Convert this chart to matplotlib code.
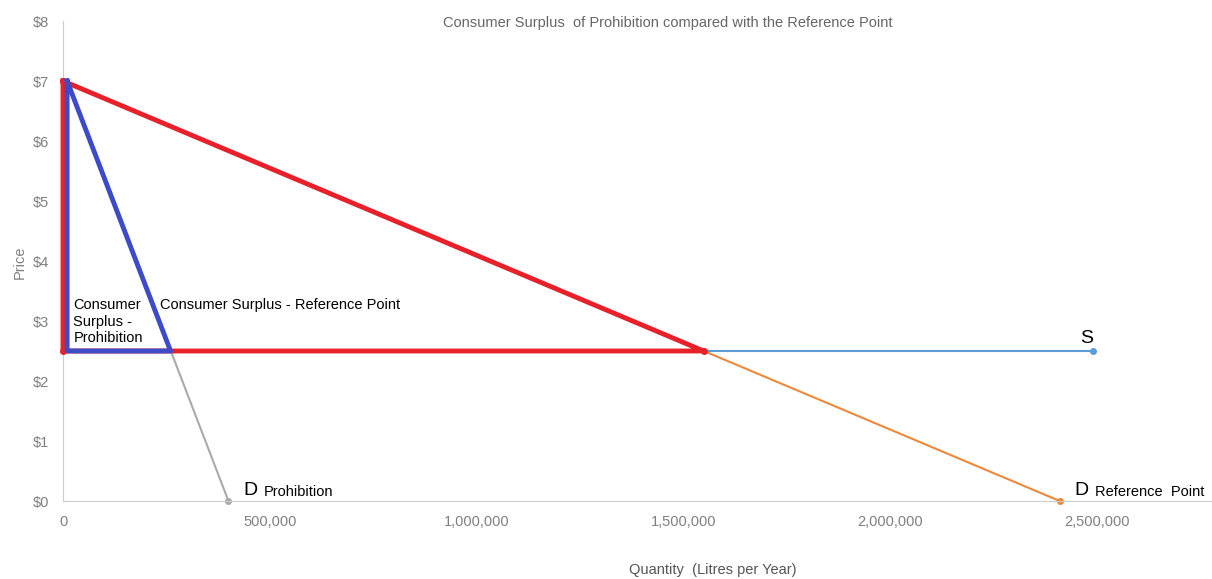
import numpy as np
import matplotlib.pyplot as plt

plt.rcParams['font.family'] = ['Liberation Sans', 'DejaVu Sans']

# demand / supply data
s_qty = [0, 2490000]
s_price = [2.5, 2.5]

d_ref_qty = [0, 2410000]
d_ref_price = [7, 0]

d_pro_qty = [10000, 400000]
d_pro_price = [7, 0]

# consumer surplus triangles
cs_ref_qty = [0, 1549000, 0, 0]
cs_ref_price = [7, 2.5, 2.5, 7]

cs_pro_qty = [10000, 260000, 10000, 10000]
cs_pro_price = [7, 2.5, 2.5, 7]

yticks = [0, 1, 2, 3, 4, 5, 6, 7, 8]
xticks = [0, 500000, 1000000, 1500000, 2000000, 2500000]

fig = plt.figure(figsize=(12.12, 5.79), dpi=100)
ax = fig.add_axes([63/1212, 78/579, 1149/1212, 480/579])

ax.plot(d_pro_qty, d_pro_price, color='#aaaaaa', lw=1.5, marker='o', ms=4, markevery=[1], clip_on=False)
ax.plot(d_ref_qty, d_ref_price, color='#f0883a', lw=1.5, marker='o', ms=4, markevery=[1], clip_on=False)
ax.plot(s_qty, s_price, color='#5b9bd8', lw=1.5, marker='o', ms=4, markevery=[1])
ax.plot(cs_ref_qty, cs_ref_price, color='#e8202a', lw=3.5, marker='o', ms=4, zorder=4, clip_on=False)
ax.plot(cs_pro_qty, cs_pro_price, color='#3d4bc9', lw=3.5, zorder=5)

ax.set_xlim(0, 2778000)
ax.set_ylim(0, 8)
ax.set_yticks(yticks)
ax.set_yticklabels(['$' + str(v) for v in yticks])
ax.set_xticks(xticks)
ax.set_xticklabels(['0'] + ['{:,}'.format(v) for v in xticks[1:]])
ax.tick_params(length=0, labelsize=10.5, labelcolor='#808080', pad=10)

for side in ['top', 'right']:
    ax.spines[side].set_visible(False)
ax.spines['left'].set_color('#cccccc')
ax.spines['bottom'].set_color('#cccccc')

fig.text(668/1212, 1 - 23/579, 'Consumer Surplus  of Prohibition compared with the Reference Point',
         ha='center', va='center', fontsize=10.5, color='#666666')
fig.text(20/1212, 1 - 262/579, 'Price', rotation=90, ha='center', va='center',
         fontsize=10.5, color='#808080')
fig.text(713/1212, 1 - 570/579, 'Quantity  (Litres per Year)', ha='center', va='center',
         fontsize=10.5, color='#555555')

ax.text(25000, 3.38, 'Consumer\nSurplus -\nProhibition', fontsize=10.5, va='top', linespacing=1.22)
ax.text(235000, 3.38, 'Consumer Surplus - Reference Point', fontsize=10.5, va='top')

ax.text(435000, 0.03, 'D', fontsize=14, va='bottom')
ax.text(485000, 0.03, 'Prohibition', fontsize=10.5, va='bottom')
ax.text(2445000, 0.03, 'D', fontsize=14, va='bottom')
ax.text(2495000, 0.03, 'Reference  Point', fontsize=10.5, va='bottom')
ax.text(2460000, 2.56, 'S', fontsize=14, va='bottom')

fig.savefig('out.png', dpi=100)
